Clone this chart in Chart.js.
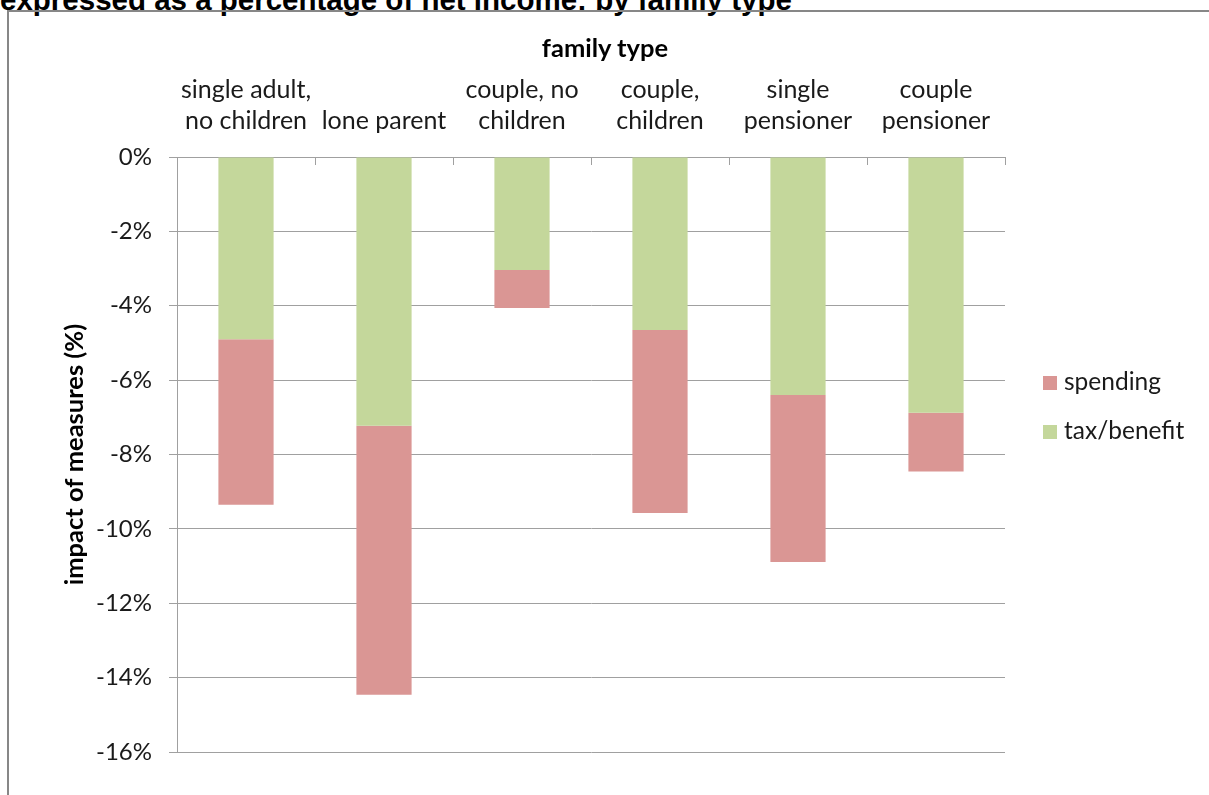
<!DOCTYPE html>
<html>
<head>
<meta charset="utf-8">
<script src="https://cdn.jsdelivr.net/npm/chart.js@4.4.1/dist/chart.umd.min.js"></script>
<style>
  html, body { margin: 0; padding: 0; background: #fff; overflow: hidden; }
  #page { position: relative; width: 1209px; height: 795px; overflow: hidden; }
  #title { position: absolute; left: 0; top: -15px; font: bold 29.5px/30px "Liberation Sans", Arial, sans-serif; color: #000; white-space: nowrap; }
  #frame { position: absolute; left: 7px; top: 10px; width: 1400px; height: 1000px; border: 2px solid #878787; }
  #chart { position: absolute; left: 0; top: 0; }
  #xTitle { position: absolute; left: 505px; width: 200px; top: 31px; text-align: center; font: bold 25.5px/32px Lato, sans-serif; color: #000; }
  #legend { position: absolute; left: 1043px; top: 366px; font: 24.5px Lato, sans-serif; color: #1a1a1a; }
  #legend div { height: 49px; display: flex; align-items: flex-start; }
  #legend span.box { display: inline-block; width: 14px; height: 14px; margin-top: 10px; margin-right: 7px; }
</style>
</head>
<body>
<div id="page">
  <div id="title">expressed as a percentage of net income: by family type</div>
  <div id="frame"></div>
  <canvas id="chart" width="1209" height="795"></canvas>
  <div id="xTitle">family type</div>
  <div id="legend"></div>
</div>
<script>
const familyTypes = [
  ['single adult,', 'no children'],
  ['lone parent'],
  ['couple, no', 'children'],
  ['couple,', 'children'],
  ['single', 'pensioner'],
  ['couple', 'pensioner']
];
const taxBenefit = [-4.90, -7.23, -3.04, -4.65, -6.40, -6.88];
const spending = [-4.45, -7.23, -1.02, -4.92, -4.49, -1.58];
const yTicks = [0, -2, -4, -6, -8, -10, -12, -14, -16];

const gridGrey = '#a0a0a0';
const textColor = '#1a1a1a';

// tick marks pointing down from the top axis, between categories
const xTickMarks = {
  id: 'xTickMarks',
  afterDraw(chart) {
    const x = chart.scales.x;
    const ctx = chart.ctx;
    const n = familyTypes.length;
    ctx.save();
    ctx.strokeStyle = gridGrey;
    ctx.lineWidth = 1;
    for (let i = 1; i <= n; i++) {
      let px;
      if (i === n) px = x.right;
      else px = (x.getPixelForValue(i - 1) + x.getPixelForValue(i)) / 2;
      px = Math.round(px) + 0.5;
      ctx.beginPath();
      ctx.moveTo(px, x.bottom);
      ctx.lineTo(px, x.bottom + 8);
      ctx.stroke();
    }
    ctx.restore();
  }
};

const chart = new Chart(document.getElementById('chart'), {
  type: 'bar',
  data: {
    labels: familyTypes,
    datasets: [
      { label: 'tax/benefit', data: taxBenefit, backgroundColor: '#C4D79B' },
      { label: 'spending', data: spending, backgroundColor: '#DA9694' }
    ]
  },
  options: {
    responsive: false,
    animation: false,
    layout: { padding: { left: 0, top: 0, right: 204, bottom: 43 } },
    datasets: { bar: { barPercentage: 0.4, categoryPercentage: 1 } },
    plugins: {
      legend: { display: false },
      tooltip: { enabled: false }
    },
    scales: {
      x: {
        position: 'top',
        stacked: true,
        grid: { display: false },
        border: { display: true, color: gridGrey, width: 1 },
        ticks: {
          color: textColor,
          padding: 12,
          maxRotation: 0,
          autoSkip: false,
          font: { family: 'Lato', size: 25, lineHeight: 1.25 }
        },
        // axis title is the #xTitle div (Excel puts it off-centre)
        title: { display: false },
        afterFit(scale) { scale.height = 157; }
      },
      y: {
        stacked: true,
        min: -16,
        max: 0,
        afterBuildTicks(scale) { scale.ticks = yTicks.map(v => ({ value: v })); },
        grid: { color: gridGrey, lineWidth: 1, tickLength: 8, drawTicks: true },
        border: { display: true, color: gridGrey, width: 1 },
        ticks: {
          color: textColor,
          padding: 17,
          font: { family: 'Lato', size: 24 },
          callback: v => v + '%'
        },
        title: {
          display: true,
          text: 'impact of measures (%)',
          color: '#000',
          padding: { top: 59, bottom: 0 },
          font: { family: 'Lato', size: 25.5, weight: 'bold' }
        },
        afterFit(scale) { scale.width = 177; }
      }
    }
  },
  plugins: [xTickMarks]
});

// legend lists spending first, as in the original
const legendEl = document.getElementById('legend');
chart.data.datasets.slice().reverse().forEach(ds => {
  const row = document.createElement('div');
  const box = document.createElement('span');
  box.className = 'box';
  box.style.background = ds.backgroundColor;
  const txt = document.createElement('span');
  txt.textContent = ds.label;
  row.appendChild(box);
  row.appendChild(txt);
  legendEl.appendChild(row);
});
</script>
</body>
</html>
